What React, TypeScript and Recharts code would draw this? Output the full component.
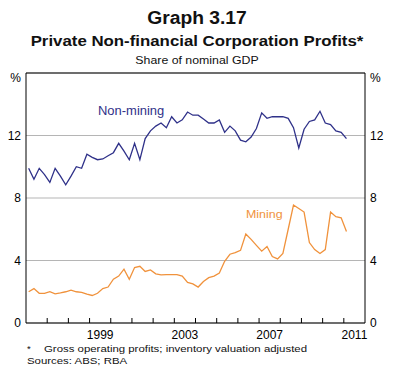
import React from 'react';
import { LineChart, Line, XAxis, YAxis, CartesianGrid, ReferenceLine } from 'recharts';

// quarterly, 1996:Q1 to 2011:Q1, per cent of nominal GDP
const startYear = 1996;
const nonMining = [
  9.9, 9.2, 9.9, 9.5, 9.0, 9.9, 9.4, 8.85, 9.4, 10.0,
  9.9, 10.8, 10.6, 10.45, 10.5, 10.7, 10.9, 11.5, 11.0, 10.45,
  11.5, 10.45, 11.8, 12.3, 12.6, 12.8, 12.5, 13.2, 12.8, 13.0,
  13.5, 13.3, 13.3, 13.05, 12.8, 12.8, 13.0, 12.2, 12.6, 12.3,
  11.7, 11.6, 11.9, 12.45, 13.45, 13.1, 13.2, 13.2, 13.2, 13.1,
  12.5, 11.2, 12.4, 12.9, 13.0, 13.55, 12.8, 12.7, 12.3, 12.2, 11.8,
];
const mining = [
  2.0, 2.2, 1.9, 1.9, 2.0, 1.87, 1.93, 2.0, 2.1, 2.0,
  1.96, 1.85, 1.76, 1.9, 2.2, 2.3, 2.8, 3.0, 3.45, 2.8,
  3.55, 3.63, 3.3, 3.4, 3.15, 3.08, 3.1, 3.1, 3.1, 3.0,
  2.6, 2.5, 2.3, 2.65, 2.9, 3.0, 3.2, 3.95, 4.4, 4.5,
  4.65, 5.7, 5.35, 4.97, 4.6, 4.9, 4.25, 4.1, 4.45, 6.0,
  7.55, 7.33, 7.1, 5.15, 4.7, 4.45, 4.7, 7.1, 6.8, 6.73, 5.85,
];
const yearMarks = [1997, 1998, 1999, 2000, 2001, 2002, 2003, 2004, 2005, 2006, 2007, 2008, 2009, 2010, 2011];
const labelYears = [1999, 2003, 2007, 2011];
const yTicks = [0, 4, 8, 12, 16];

const data = nonMining.map((v, i) => ({
  t: startYear + 0.125 + i * 0.25,
  nonMining: v,
  mining: mining[i],
}));

const xTicks = [...yearMarks, ...labelYears.map((y) => y + 0.5)].sort((a, b) => a - b);

const FONT = '"Liberation Sans", Arial, sans-serif';
const BLUE = '#2f3189';
const ORANGE = '#f0923c';

// year boundaries get an inward tick, mid-years carry the label
const YearTick = ({ x, y, payload }: any) => {
  const v = payload.value;
  if (Number.isInteger(v)) {
    return <line x1={x} x2={x} y1={y} y2={y - 5} stroke="#000" strokeWidth={1} />;
  }
  return (
    <text x={x} y={y + 16} textAnchor="middle" fontSize={12} fill="#000" fontFamily={FONT}>
      {Math.floor(v)}
    </text>
  );
};

// top tick shows the unit, sitting a little below the frame
const ValueTick = ({ x, y, payload, textAnchor }: any) => {
  const top = payload.value === 16;
  return (
    <text x={x} y={y + (top ? 9 : 4)} textAnchor={textAnchor} fontSize={12} fill="#000" fontFamily={FONT}>
      {top ? '%' : payload.value}
    </text>
  );
};

const textBox = (top: number, size: number, sx: number, bold = false): React.CSSProperties => ({
  position: 'absolute',
  top,
  left: 0,
  width: 394,
  textAlign: 'center',
  fontSize: size,
  fontWeight: bold ? 'bold' : 'normal',
  color: '#111',
  transform: `scaleX(${sx})`,
  transformOrigin: '197px 0',
  whiteSpace: 'nowrap',
});

export default function App() {
  return (
    <div style={{ position: 'absolute', left: 0, top: 0, width: 394, height: 381, background: '#fff', fontFamily: FONT }}>
      <div style={textBox(8, 18, 1.07, true)}>Graph 3.17</div>
      <div style={textBox(33, 14.5, 1.16, true)}>Private Non-financial Corporation Profits*</div>
      <div style={textBox(54, 11, 1.12)}>Share of nominal GDP</div>

      <div style={{ position: 'absolute', left: 0, top: 0 }}>
        <LineChart width={394} height={343} data={data} margin={{ top: 73, right: 0, left: 0, bottom: 0 }}>
          <CartesianGrid yAxisId="left" vertical={false} stroke="#b5b5b5" strokeWidth={1} />
          <XAxis
            dataKey="t"
            type="number"
            domain={[1996, 2012]}
            ticks={xTicks}
            interval={0}
            height={20}
            tickSize={0}
            tickMargin={0}
            tickLine={false}
            axisLine={{ stroke: '#000', strokeWidth: 1 }}
            tick={<YearTick />}
          />
          <YAxis
            yAxisId="left"
            domain={[0, 16]}
            ticks={yTicks}
            width={26}
            interval={0}
            tickLine={false}
            tickSize={0}
            tickMargin={5}
            axisLine={{ stroke: '#000', strokeWidth: 1 }}
            tick={<ValueTick />}
          />
          <YAxis
            yAxisId="right"
            orientation="right"
            domain={[0, 16]}
            ticks={yTicks}
            width={29}
            interval={0}
            tickLine={false}
            tickSize={0}
            tickMargin={5}
            axisLine={{ stroke: '#000', strokeWidth: 1 }}
            tick={<ValueTick />}
          />
          <ReferenceLine yAxisId="left" y={16} stroke="#000" strokeWidth={1} />
          <Line yAxisId="left" dataKey="nonMining" stroke={BLUE} strokeWidth={1.3} dot={false} isAnimationActive={false} />
          <Line yAxisId="left" dataKey="mining" stroke={ORANGE} strokeWidth={1.3} dot={false} isAnimationActive={false} />
          {/* same series on the right scale, unstroked, so the right axis gets its ticks */}
          <Line yAxisId="right" dataKey="mining" stroke="none" dot={false} activeDot={false} isAnimationActive={false} />
        </LineChart>
      </div>

      <div style={{ position: 'absolute', left: 98, top: 104, fontSize: 12, color: BLUE, transform: 'scaleX(1.08)', transformOrigin: '0 0' }}>Non-mining</div>
      <div style={{ position: 'absolute', left: 246, top: 208, fontSize: 11.5, color: ORANGE, transform: 'scaleX(1.08)', transformOrigin: '0 0' }}>Mining</div>

      <div style={{ position: 'absolute', left: 27, top: 343, fontSize: 9.5, color: '#111' }}>*</div>
      <div style={{ position: 'absolute', left: 44, top: 343, fontSize: 9.5, color: '#111', transform: 'scaleX(1.2)', transformOrigin: '0 0', whiteSpace: 'nowrap' }}>
        Gross operating profits; inventory valuation adjusted
      </div>
      <div style={{ position: 'absolute', left: 27, top: 355, fontSize: 9.5, color: '#111', transform: 'scaleX(1.2)', transformOrigin: '0 0', whiteSpace: 'nowrap' }}>
        Sources: ABS; RBA
      </div>
    </div>
  );
}
